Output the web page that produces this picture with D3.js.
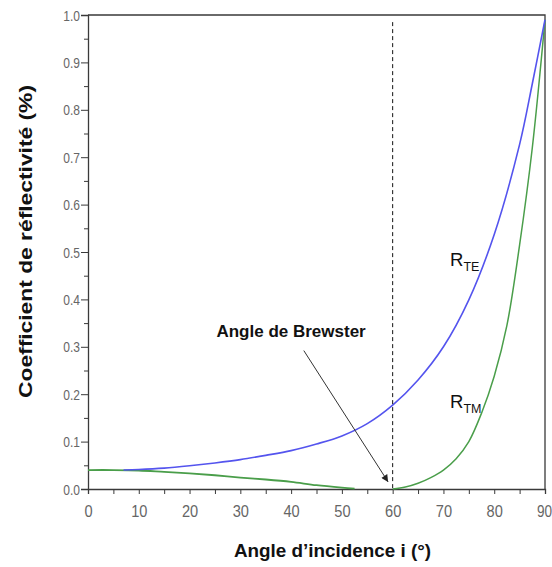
<!DOCTYPE html>
<html>
<head>
<meta charset="utf-8">
<script src="https://cdn.jsdelivr.net/npm/d3@7"></script>
<style>
  html, body { margin: 0; padding: 0; background: #fff; }
  svg { display: block; }
</style>
</head>
<body>
<svg id="chart" width="552" height="567"></svg>
<script>
// ---- data ----
const angleTE = [7, 10, 15, 20, 25, 30, 35, 40, 45, 50, 55, 60, 65, 70, 75, 80, 85, 87.5, 90];
const rTE     = [0.040, 0.041, 0.044, 0.049, 0.055, 0.062, 0.071, 0.081, 0.095, 0.112, 0.138, 0.177, 0.230, 0.300, 0.399, 0.537, 0.727, 0.855, 0.99];

const angleTMlow = [0, 5, 10, 15, 20, 25, 30, 35, 40, 45, 50, 52.5];
const rTMlow     = [0.040, 0.040, 0.039, 0.036, 0.033, 0.029, 0.024, 0.020, 0.015, 0.008, 0.003, 0.001];

const angleTMhigh = [60, 62.5, 65, 67.5, 70, 72.5, 75, 77.5, 80, 82.5, 85, 87.5, 90];
const rTMhigh     = [0.0, 0.004, 0.012, 0.024, 0.040, 0.064, 0.100, 0.160, 0.238, 0.345, 0.515, 0.72, 0.99];

const xTicks = [0, 10, 20, 30, 40, 50, 60, 70, 80, 90];
const xMinorTicks = [5, 15, 25, 35, 45, 55, 65, 75, 85];
const yTicks = [0, 0.1, 0.2, 0.3, 0.4, 0.5, 0.6, 0.7, 0.8, 0.9, 1.0];
const yMinorTicks = [0.05, 0.15, 0.25, 0.35, 0.45, 0.55, 0.65, 0.75, 0.85, 0.95];

const brewsterAngle = 60;
const brewsterTop = 0.985;
const arrowFrom = [42.5, 0.292];
const arrowTo = [59.1, 0.015];
const brewsterLabelPos = [25.3, 0.321];
const labelTEPos = [71.3, 0.470];
const labelTMPos = [71.3, 0.170];

const xTitle = "Angle d\u2019incidence i (°)";
const yTitle = "Coefficient de réflectivité (%)";
const brewsterLabel = "Angle de Brewster";

// ---- layout ----
const svg = d3.select("#chart");
const L = 88, R = 545, T = 15, B = 489;
const x = d3.scaleLinear().domain([0, 90]).range([L, R]);
const y = d3.scaleLinear().domain([0, 1]).range([B, T]);

const axisColor = "#3a3a3a";
const tickFont = "'Liberation Sans', Arial, sans-serif";
const blue = "#5454ee";
const green = "#4a9e4a";

svg.append("rect").attr("width", 552).attr("height", 567).attr("fill", "#fff");

// frame (top & right)
svg.append("path")
  .attr("d", `M${x(0)},${y(1)}H${x(90)}V${y(0)}`)
  .attr("fill", "none").attr("stroke", axisColor).attr("stroke-width", 1.3);

// x axis
const gx = svg.append("g").attr("transform", `translate(0,${y(0)})`)
  .call(d3.axisBottom(x).tickValues(xTicks).tickSize(5).tickPadding(10).tickFormat(d3.format("d")));
svg.append("g").attr("transform", `translate(0,${y(0)})`)
  .call(d3.axisBottom(x).tickValues(xMinorTicks).tickSize(5).tickFormat(""))
  .call(g => g.select(".domain").remove());

// y axis
const gy = svg.append("g").attr("transform", `translate(${x(0)},0)`)
  .call(d3.axisLeft(y).tickValues(yTicks).tickSize(7).tickPadding(2).tickFormat(d3.format(".1f")));
svg.append("g").attr("transform", `translate(${x(0)},0)`)
  .call(d3.axisLeft(y).tickValues(yMinorTicks).tickSize(4).tickFormat(""))
  .call(g => g.select(".domain").remove());

svg.selectAll(".domain").attr("stroke", axisColor).attr("stroke-width", 1.3);
svg.selectAll(".tick line").attr("stroke", axisColor).attr("stroke-width", 1);

gx.selectAll(".tick text")
  .attr("font-family", tickFont).attr("font-size", 17).attr("fill", "#666")
  .attr("y", 0).attr("dy", 0)
  .attr("transform", d => d === 90 ? "translate(-1,27.5) scale(0.8,1)" : "translate(0,27.5) scale(0.86,1)");
gy.selectAll(".tick text")
  .attr("font-family", tickFont).attr("font-size", 14).attr("fill", "#666")
  .attr("x", 0).attr("dy", 0)
  .attr("transform", "translate(-8,5) scale(0.86,1)");

// curves
const line = d3.line().x(d => x(d[0])).y(d => y(d[1])).curve(d3.curveCatmullRom.alpha(0.5));
const zip = (a, b) => a.map((v, i) => [v, b[i]]);

svg.append("path").datum(zip(angleTMlow, rTMlow)).attr("d", line)
  .attr("fill", "none").attr("stroke", green).attr("stroke-width", 1.8);
svg.append("path").datum(zip(angleTMhigh, rTMhigh)).attr("d", line)
  .attr("fill", "none").attr("stroke", green).attr("stroke-width", 1.5);
svg.append("path").datum(zip(angleTE, rTE)).attr("d", line)
  .attr("fill", "none").attr("stroke", blue).attr("stroke-width", 1.6);

// Brewster dashed line
svg.append("line")
  .attr("x1", x(brewsterAngle)).attr("x2", x(brewsterAngle))
  .attr("y1", y(brewsterTop)).attr("y2", y(0))
  .attr("stroke", "#111").attr("stroke-width", 1).attr("stroke-dasharray", "4,3");

// arrow
const defs = svg.append("defs");
defs.append("marker").attr("id", "ah").attr("viewBox", "0 0 10 10")
  .attr("refX", 10).attr("refY", 5).attr("markerWidth", 9).attr("markerHeight", 7)
  .attr("markerUnits", "userSpaceOnUse").attr("orient", "auto")
  .append("path").attr("d", "M0,0L10,5L0,10Z").attr("fill", "#222");
svg.append("line")
  .attr("x1", x(arrowFrom[0])).attr("y1", y(arrowFrom[1]))
  .attr("x2", x(arrowTo[0])).attr("y2", y(arrowTo[1]))
  .attr("stroke", "#333").attr("stroke-width", 1).attr("marker-end", "url(#ah)");

// annotations
const labFont = "'Liberation Sans', Arial, sans-serif";
svg.append("text").attr("x", x(brewsterLabelPos[0])).attr("y", y(brewsterLabelPos[1]))
  .attr("font-family", labFont).attr("font-weight", "bold").attr("font-size", 17)
  .attr("fill", "#111").text(brewsterLabel);

function rLabel(pos, sub) {
  const t = svg.append("text").attr("x", x(pos[0])).attr("y", y(pos[1]))
    .attr("font-family", labFont).attr("font-size", 18.5).attr("fill", "#111");
  t.append("tspan").text("R");
  t.append("tspan").attr("font-size", 12.5).attr("dy", 5).text(sub);
}
rLabel(labelTEPos, "TE");
rLabel(labelTMPos, "TM");

// axis titles
svg.append("text").attr("x", 332.5).attr("y", 557).attr("text-anchor", "middle")
  .attr("font-family", labFont).attr("font-weight", "bold").attr("font-size", 18)
  .attr("textLength", 197).attr("lengthAdjust", "spacingAndGlyphs")
  .attr("fill", "#111").text(xTitle);
svg.append("text").attr("transform", "translate(32,241.5) rotate(-90)")
  .attr("text-anchor", "middle")
  .attr("font-family", labFont).attr("font-weight", "bold").attr("font-size", 19)
  .attr("textLength", 313).attr("lengthAdjust", "spacingAndGlyphs")
  .attr("fill", "#111").text(yTitle);
</script>
</body>
</html>
